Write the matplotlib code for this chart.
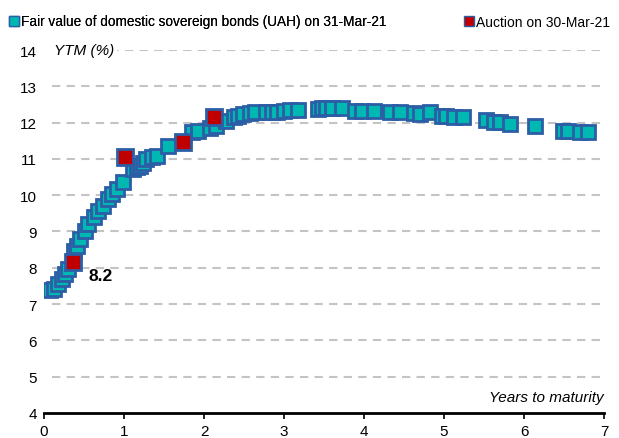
import matplotlib
matplotlib.use("Agg")
import matplotlib.pyplot as plt
from matplotlib.lines import Line2D

plt.rcParams["font.family"] = ["Liberation Sans", "DejaVu Sans"]

# fair value curve (years to maturity, YTM %)
fair_years = [0.08, 0.13, 0.18, 0.22, 0.26, 0.30, 0.37, 0.41, 0.45, 0.51, 0.55, 0.62, 0.68,
              0.74, 0.80, 0.85, 0.91, 0.99, 1.11, 1.16, 1.20, 1.24, 1.28, 1.35, 1.41, 1.55,
              1.85, 1.93, 2.07, 2.15, 2.28, 2.37, 2.43, 2.49, 2.57, 2.64, 2.78, 2.85, 2.91,
              3.00, 3.08, 3.18, 3.43, 3.47, 3.53, 3.60, 3.72, 3.89, 3.97, 4.12, 4.33, 4.45,
              4.62, 4.70, 4.83, 4.97, 5.03, 5.12, 5.24, 5.53, 5.62, 5.70, 5.83, 6.14, 6.49,
              6.55, 6.70, 6.80]
fair_ytm = [7.38, 7.42, 7.55, 7.69, 7.83, 7.98, 8.47, 8.61, 8.79, 9.02, 9.21, 9.39, 9.57,
            9.71, 9.90, 10.03, 10.17, 10.36, 10.72, 10.78, 10.81, 10.90, 11.00, 11.04, 11.09,
            11.36, 11.73, 11.78, 11.84, 11.92, 12.05, 12.15, 12.19, 12.24, 12.26, 12.28,
            12.30, 12.30, 12.30, 12.33, 12.36, 12.36, 12.37, 12.39, 12.40, 12.40, 12.40,
            12.33, 12.33, 12.33, 12.28, 12.28, 12.26, 12.24, 12.28, 12.19, 12.19, 12.15,
            12.15, 12.08, 12.03, 12.01, 11.96, 11.91, 11.78, 11.78, 11.73, 11.73]

# auction results
auction_years = [0.36, 1.01, 1.74, 2.12]
auction_ytm = [8.15, 11.04, 11.46, 12.16]

legend_labels = ["Fair value of domestic sovereign bonds (UAH) on 31-Mar-21",
                 "Auction on 30-Mar-21"]

teal = "#00B8B2"
red = "#C00000"
edge = "#2C5EA6"

fig = plt.figure(figsize=(6.19, 4.39), dpi=100)
ax = fig.add_axes([0.0711, 0.057, 0.9047, 0.8268])

ax.plot(fair_years, fair_ytm, linestyle="none", marker="s", markersize=10.5,
        markerfacecolor=teal, markeredgecolor=edge, markeredgewidth=2, zorder=3)
ax.plot(auction_years, auction_ytm, linestyle="none", marker="s", markersize=11.5,
        markerfacecolor=red, markeredgecolor=edge, markeredgewidth=2, zorder=4)
ax.text(0.55, 7.8, "8.2", fontsize=12.5, fontweight="bold", va="center", ha="left")

ax.set_xlim(0, 7)
ax.set_ylim(4, 14)
ax.set_xticks(range(0, 8))
ax.set_yticks(range(4, 15))
ax.tick_params(axis="y", length=0, labelsize=11, pad=5)
ax.tick_params(axis="x", direction="out", length=4, width=1.2, labelsize=11, pad=4)

for v in range(5, 15):
    ax.plot([0.1, 7], [v, v], color="#C4C4C4", linewidth=1.5, dashes=(4, 3), zorder=1)

for side in ["left", "right", "top"]:
    ax.spines[side].set_visible(False)
ax.spines["bottom"].set_linewidth(2)
ax.spines["bottom"].set_zorder(5)

ax.text(0.13, 14, "YTM (%)", fontsize=11, style="italic", va="center", ha="left",
        bbox=dict(facecolor="white", edgecolor="none", pad=2), zorder=2)
ax.text(7, 4.45, "Years to maturity", fontsize=11, style="italic", va="center", ha="right")

h_fair = Line2D([], [], linestyle="none", marker="s", markersize=7, markerfacecolor=teal,
                markeredgecolor=edge, markeredgewidth=1)
h_auct = Line2D([], [], linestyle="none", marker="s", markersize=7, markerfacecolor=red,
                markeredgecolor=edge, markeredgewidth=1)
leg1 = fig.legend([h_fair], [legend_labels[0]], loc="upper left",
                  bbox_to_anchor=(-0.008, 0.993), frameon=False, fontsize=9.8,
                  handletextpad=0.0, handlelength=1.0)
fig.add_artist(leg1)
fig.legend([h_auct], [legend_labels[1]], loc="upper right",
           bbox_to_anchor=(1.005, 0.993), frameon=False, fontsize=10,
           handletextpad=0.0, handlelength=1.0)

fig.savefig("out.png", dpi=100)
